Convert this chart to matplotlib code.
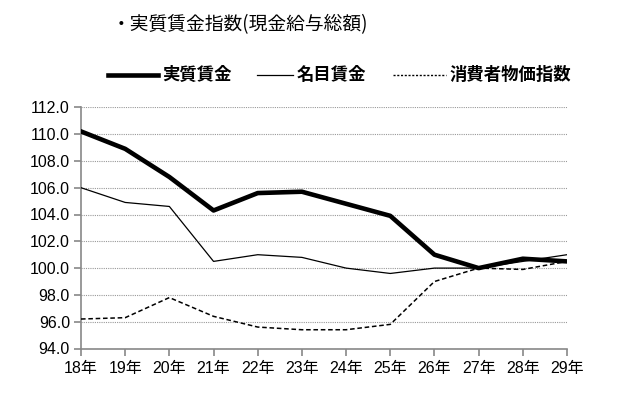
import numpy as np
import matplotlib
matplotlib.use('Agg')
import matplotlib.pyplot as plt
from matplotlib.lines import Line2D

plt.rcParams['font.family'] = ['Liberation Sans', 'Noto Sans CJK JP', 'DejaVu Sans']

years = ['18年', '19年', '20年', '21年', '22年', '23年', '24年', '25年', '26年', '27年', '28年', '29年']
real_wage = [110.2, 108.9, 106.8, 104.3, 105.6, 105.7, 104.8, 103.9, 101.0, 100.0, 100.7, 100.5]
nominal_wage = [106.0, 104.9, 104.6, 100.5, 101.0, 100.8, 100.0, 99.6, 100.0, 100.0, 100.5, 101.0]
cpi = [96.2, 96.3, 97.8, 96.4, 95.6, 95.4, 95.4, 95.8, 99.0, 100.0, 99.9, 100.5]
yticks = np.arange(94.0, 112.1, 2.0)

fig = plt.figure(figsize=(6.2, 3.99), dpi=100)
ax = fig.add_axes([81/620, 1-348.5/399, (567-81)/620, (348.5-107.3)/399])

x = np.arange(len(years))
ax.plot(x, nominal_wage, color='black', lw=0.9, zorder=3)
ax.plot(x, cpi, color='black', lw=1.1, linestyle=(0, (3, 1.8)), zorder=3)
ax.plot(x, real_wage, color='black', lw=3.3, solid_joinstyle='round', zorder=4)

ax.set_xlim(0, len(years)-1)
ax.set_ylim(94, 112)
ax.set_xticks(x)
ax.set_xticklabels(years, fontsize=11.5)
ax.set_yticks(yticks)
ax.set_yticklabels(['%.1f' % v for v in yticks], fontsize=11.5)
ax.yaxis.grid(True, color='#999999', linestyle=(0, (1, 1)), lw=0.8)
ax.set_axisbelow(True)
for s in ['top', 'right']:
    ax.spines[s].set_visible(False)
for s in ['left', 'bottom']:
    ax.spines[s].set_color('#888888')
    ax.spines[s].set_linewidth(1.2)
ax.tick_params(axis='both', colors='#888888', length=5, width=1.2, labelcolor='black')
ax.tick_params(axis='x', pad=4)
ax.tick_params(axis='y', pad=3)

# title
fig.text(112/620, 1-25/399, '・実質賃金指数(現金給与総額)', fontsize=13.5, va='center', ha='left',
         family=['Noto Sans CJK JP', 'DejaVu Sans'])

# legend drawn by hand
leg_y = 1 - 75/399
entries = [('実質賃金', 108, 158, 3.3, '-'),
           ('名目賃金', 257, 293, 0.9, '-'),
           ('消費者物価指数', 393, 446, 1.0, (0, (1.5, 1.2)))]
for label, x0, x1, w, ls in entries:
    fig.add_artist(Line2D([x0/620, x1/620], [leg_y, leg_y], color='black', lw=w, linestyle=ls,
                          transform=fig.transFigure))
    fig.text((x1+4)/620, leg_y, label, fontsize=12.5, va='center', ha='left', weight='bold',
             family=['Noto Sans CJK JP', 'DejaVu Sans'])

fig.savefig('out.png', dpi=100)
